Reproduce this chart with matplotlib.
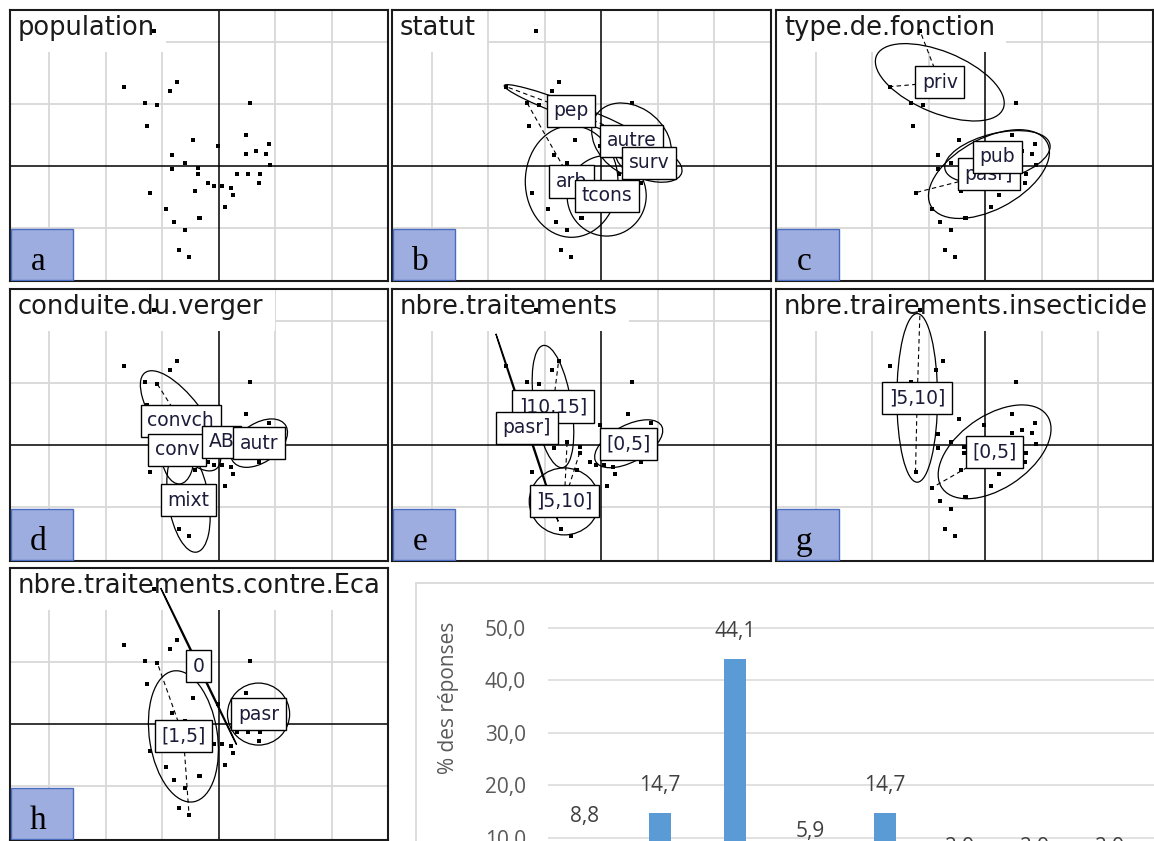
import numpy as np
import matplotlib.pyplot as plt
from matplotlib.patches import Ellipse, Rectangle

plt.rcParams['font.family'] = ['DejaVu Sans']

W, H = 1154, 841

pts_x = [-1.68, -0.75, -0.87, -1.31, -1.09, -1.27, 0.54, -0.46, -0.02, 0.47,
         0.88, 0.47, 0.65, 0.84, 0.91, -0.83, -0.60, -0.83, -0.38, -0.38,
         0.32, 0.51, 0.73, 0.70, -0.20, -0.09, 0.06, 0.21, 0.25, -0.42,
         -1.23, -0.94, 0.10, -0.79, -0.35, -0.33, -0.60, -0.71, -0.53, -1.15]
pts_y = [1.28, 1.36, 1.21, 1.02, 0.98, 0.65, 1.02, 0.42, 0.32, 0.50,
         0.35, 0.20, 0.24, 0.20, 0.02, 0.17, 0.05, -0.05, -0.03, -0.13,
         -0.13, -0.13, -0.13, -0.28, -0.28, -0.32, -0.32, -0.35, -0.47, -0.40,
         -0.43, -0.69, -0.66, -0.91, -0.84, -0.84, -1.03, -1.36, -1.47, 2.18]

# b - statut
b_lab = ['pep', 'arb', 'autre', 'tcons', 'surv']
b_cx = [-0.53, -0.52, 0.54, 0.10, 0.85]
b_cy = [0.89, -0.25, 0.41, -0.48, 0.05]
b_a = [1.25, 0.90, 0.75, 0.70, 0.60]
b_b = [0.12, 0.82, 0.55, 0.65, 0.28]
b_ang = [-19, 90, -30, 0, -15]
b_star = [[0, 9], [3], [], [], []]

# c - type.de.fonction
c_lab = ['priv', 'pasr]', 'pub']
c_cx = [-0.80, 0.07, 0.22]
c_cy = [1.35, -0.13, 0.15]
c_a = [1.20, 1.15, 0.95]
c_b = [0.50, 0.58, 0.38]
c_ang = [-20, 25, 12]
c_star = [[0, 39], [30, 24], []]

# d - conduite.du.verger
d_lab = ['convch', 'conv', 'mixt', 'AB', 'autr']
d_cx = [-0.68, -0.74, -0.54, 0.05, 0.71]
d_cy = [0.39, -0.08, -0.89, 0.05, 0.03]
d_a = [1.00, 0.55, 0.85, 0.12, 0.55]
d_b = [0.40, 0.30, 0.36, 0.08, 0.32]
d_ang = [130, 95, 100, 0, 30]
d_star = [[4], [], [], [], []]

# e - nbre.traitements
e_lab = [']10,15]', 'pasr]', '[0,5]', ']5,10]']
e_cx = [-0.85, -1.31, 0.49, -0.65]
e_cy = [0.62, 0.28, 0.02, -0.91]
e_a = [1.00, 1.61, 0.65, 0.62]
e_b = [0.33, 0.01, 0.30, 0.54]
e_ang = [100, 110, 25, 0]
e_star = [[1], [], [], [16, 19]]

# g - nbre.trairements.insecticide
g_lab = [']5,10]', '[0,5]']
g_cx = [-1.20, 0.17]
g_cy = [0.76, -0.11]
g_a = [1.36, 1.10]
g_b = [0.36, 0.60]
g_ang = [90, 30]
g_star = [[39, 30], [31, 18]]

# h - nbre.traitements.contre.Eca
h_lab = ['0', '[1,5]', 'pasr']
h_cx = [-0.36, -0.63, 0.70]
h_cy = [0.93, -0.20, 0.16]
h_a = [1.43, 1.07, 0.55]
h_b = [0.01, 0.60, 0.50]
h_ang = [118, 100, 0]
h_star = [[], [4, 38], []]

# histogramme
bar_values = [8.8, 14.7, 44.1, 5.9, 14.7, 2.9, 2.9, 2.9]
y_ticks = [0, 10, 20, 30, 40, 50]

fig = plt.figure(figsize=(W / 100, H / 100), dpi=100)


def px_axes(l, t, r, b):
    return fig.add_axes([l / W, 1 - b / H, (r - l) / W, (b - t) / H])


def draw_panel(box, title, letter, lab, cx, cy, sa, sb, ang, star):
    l, t, r, b = box
    w, h = r - l, b - t
    ax = px_axes(l, t, r, b)
    ax.set_xlim(-209 / 56.5, (w - 209) / 56.5)
    ax.set_ylim(-(h - 156) / 62, 156 / 62)
    ax.set_xticks([])
    ax.set_yticks([])
    for s in ax.spines.values():
        s.set_linewidth(1.5)
        s.set_color('#1a1a1a')

    for gx in [-3, -2, -1, 1, 2]:
        ax.axvline(gx, color='#d8d8d8', lw=1.3, zorder=0.5)
    for gy in [-1, 1, 2]:
        ax.axhline(gy, color='#d8d8d8', lw=1.3, zorder=0.5)
    ax.axhline(0, color='black', lw=1.1, zorder=1)
    ax.axvline(0, color='black', lw=1.1, zorder=1)

    ax.text(8 / w, 1 - 25 / h, title, transform=ax.transAxes, fontsize=18.5,
            color='#1a1a1a', ha='left', va='baseline', zorder=2, clip_on=True,
            bbox=dict(boxstyle='square,pad=0.43', fc='white', ec='none'))

    for i in range(len(lab)):
        ax.add_patch(Ellipse((cx[i], cy[i]), 2 * sa[i], 2 * sb[i], angle=ang[i],
                             fill=False, ec='black', lw=0.9, zorder=3))
        for m in star[i]:
            ax.plot([cx[i], pts_x[m]], [cy[i], pts_y[m]], color='black',
                    lw=0.8, ls=(0, (4, 3)), zorder=3)

    ax.plot(pts_x, pts_y, 's', color='black', ms=3.2, mew=0, zorder=4)

    for i in range(len(lab)):
        ax.text(cx[i], cy[i], lab[i], ha='center', va='center', fontsize=13.5,
                color='#1c1c3a', zorder=5, clip_on=True,
                bbox=dict(boxstyle='square,pad=0.35', fc='white', ec='black', lw=1.0))

    ax.add_patch(Rectangle((1 / w, 1 / h), 62 / w, 51 / h, transform=ax.transAxes,
                           fc='#9eaddf', ec='#4a6cc0', lw=1.0, zorder=6))
    ax.text(28 / w, 11 / h, letter, transform=ax.transAxes, ha='center',
            va='baseline', fontsize=24, family='Liberation Serif',
            color='black', zorder=7)
    return ax


draw_panel((10, 10, 388, 281), 'population', 'a', [], [], [], [], [], [], [])
draw_panel((392, 10, 771, 281), 'statut', 'b',
           b_lab, b_cx, b_cy, b_a, b_b, b_ang, b_star)
draw_panel((776, 10, 1153, 281), 'type.de.fonction', 'c',
           c_lab, c_cx, c_cy, c_a, c_b, c_ang, c_star)
draw_panel((10, 289, 388, 561), 'conduite.du.verger', 'd',
           d_lab, d_cx, d_cy, d_a, d_b, d_ang, d_star)
draw_panel((392, 289, 771, 561), 'nbre.traitements', 'e',
           e_lab, e_cx, e_cy, e_a, e_b, e_ang, e_star)
draw_panel((776, 289, 1153, 561), 'nbre.trairements.insecticide', 'g',
           g_lab, g_cx, g_cy, g_a, g_b, g_ang, g_star)
draw_panel((10, 568, 388, 840), 'nbre.traitements.contre.Eca', 'h',
           h_lab, h_cx, h_cy, h_a, h_b, h_ang, h_star)

# cadre du graphique Excel
fig.add_artist(Rectangle((415.7 / W, -0.2), 1.2, 1 - 583.3 / H + 0.2,
                         transform=fig.transFigure, fill=False,
                         ec='#d9d9d9', lw=1.3))

px_per_unit = 5.2375
bax = fig.add_axes([547.5 / W, 1 - 889.9 / H, 675 / W, 289.9 / H])
pos = np.arange(len(bar_values))
bax.bar(pos, bar_values, width=0.29, color='#5b9bd5', zorder=2)
bax.set_xlim(-0.5, 8.5)
bax.set_ylim(0, 289.9 / px_per_unit)
bax.set_yticks(y_ticks)
bax.set_yticklabels([f'{v:.1f}'.replace('.', ',') for v in y_ticks],
                    family='Open Sans', fontsize=15, color='#595959')
bax.set_xticks([])
bax.tick_params(axis='y', length=0, pad=15.5)
bax.yaxis.grid(True, color='#d9d9d9', lw=1.1)
bax.set_axisbelow(True)
for s in bax.spines.values():
    s.set_visible(False)
bax.set_ylabel('% des réponses', family='Open Sans', fontsize=15,
               color='#595959', va='center')
bax.yaxis.set_label_coords((448 - 547.5) / 675, (889.9 - 698) / 289.9)

for i, v in enumerate(bar_values):
    bax.annotate(f'{v:.1f}'.replace('.', ','), (i, v), xytext=(0, 19.5),
                 textcoords='offset points', ha='center', va='center',
                 family='Open Sans', fontsize=15, color='#404040')

fig.savefig('out.png', dpi=100)
